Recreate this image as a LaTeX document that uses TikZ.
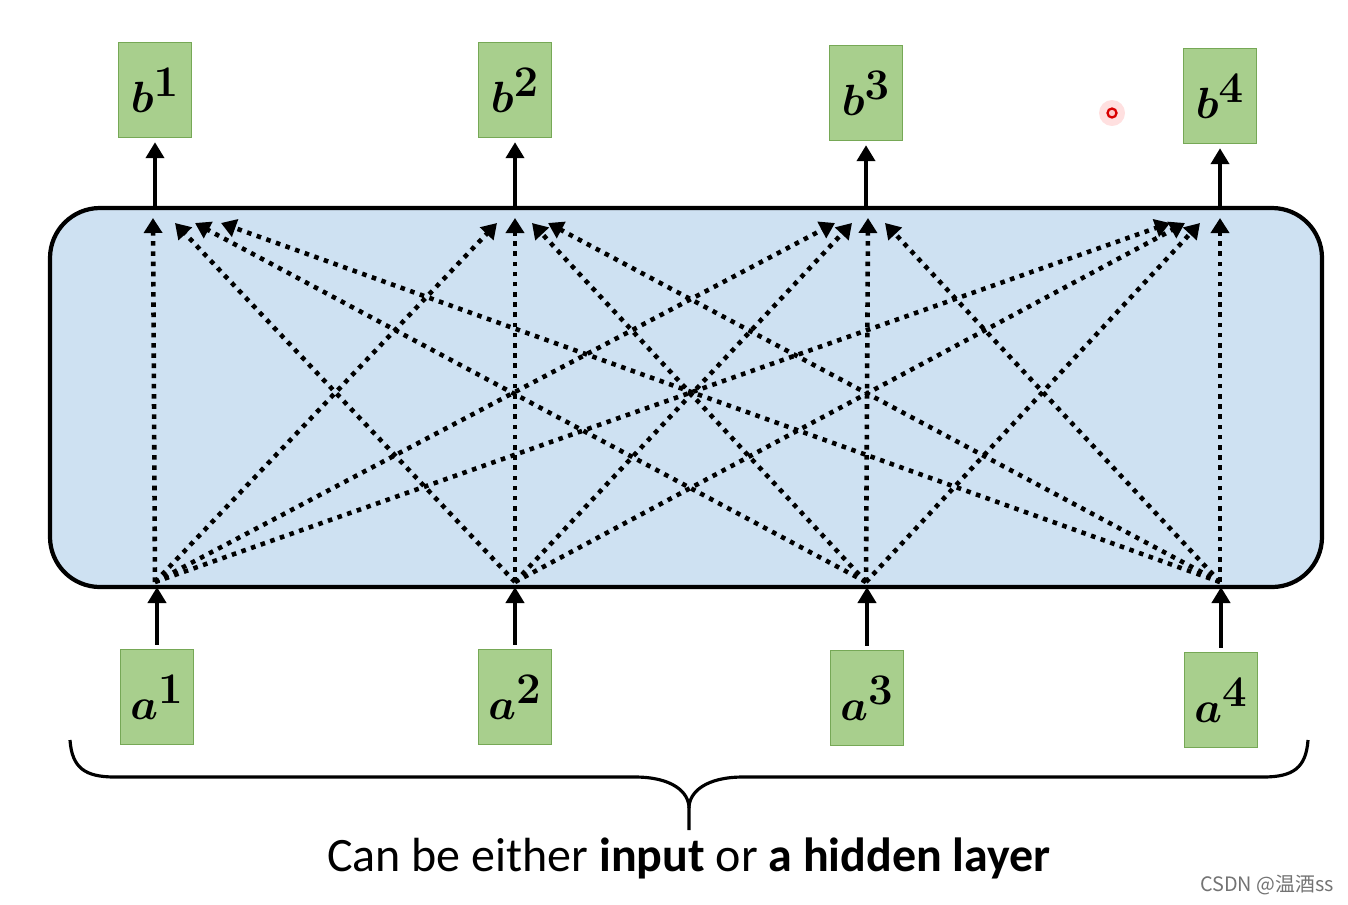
\documentclass[tikz,border=0pt]{standalone}
\usepackage{fontspec}
\usepackage{bm}
\usepackage{tikz}
\usetikzlibrary{arrows.meta,calc}
\setmainfont{Carlito}
\newfontfamily\cjk{Noto Sans CJK SC}
\definecolor{boxgreen}{RGB}{168,207,141}
\definecolor{boxedge}{RGB}{118,168,86}
\definecolor{layerblue}{RGB}{206,225,242}

\begin{document}
\begin{tikzpicture}[x=0.02cm,y=-0.02cm,
    vec/.style={rectangle,draw=boxedge,line width=0.8pt,fill=boxgreen,
        minimum width=1.46cm,minimum height=1.9cm,inner sep=0pt,
        font=\fontsize{33}{38}\selectfont},
    flow/.style={line width=2.3pt,-{Triangle[width=0.36cm,length=0.32cm]}},
    dotarrow/.style={line width=2.6pt,dash pattern=on 2.6pt off 3.2pt,
        -{Triangle[width=0.36cm,length=0.3cm]}}]
    \useasboundingbox (0,0) rectangle (1348,904);

    % Self-attention layer
    \draw[line width=2.4pt,fill=layerblue,rounded corners=1cm]
        (50,208) rectangle (1322,587);

    % Outputs
    \node[vec] (b1) at (155,90) {$\bm{b}^{\bm{1}}$};
    \node[vec] (b2) at (515,90) {$\bm{b}^{\bm{2}}$};
    \node[vec] (b3) at (866,93) {$\bm{b}^{\bm{3}}$};
    \node[vec] (b4) at (1220,96) {$\bm{b}^{\bm{4}}$};

    % Inputs
    \node[vec] (a1) at (157,697) {$\bm{a}^{\bm{1}}$};
    \node[vec] (a2) at (515,697) {$\bm{a}^{\bm{2}}$};
    \node[vec] (a3) at (867,698) {$\bm{a}^{\bm{3}}$};
    \node[vec] (a4) at (1221,700) {$\bm{a}^{\bm{4}}$};

    % Layer borders
    \coordinate (top1) at (155,208);
    \coordinate (top2) at (515,208);
    \coordinate (top3) at (866,208);
    \coordinate (top4) at (1220,208);
    \coordinate (bot1) at (157,587);
    \coordinate (bot2) at (515,587);
    \coordinate (bot3) at (867,587);
    \coordinate (bot4) at (1221,587);

    % Solid arrows
    \draw[flow,shorten >=0.08cm] (top1) -- (b1);
    \draw[flow,shorten >=0.08cm] (top2) -- (b2);
    \draw[flow,shorten >=0.08cm] (top3) -- (b3);
    \draw[flow,shorten >=0.08cm] (top4) -- (b4);
    \draw[flow,shorten <=0.08cm] (a1) -- (bot1);
    \draw[flow,shorten <=0.08cm] (a2) -- (bot2);
    \draw[flow,shorten <=0.08cm] (a3) -- (bot3);
    \draw[flow,shorten <=0.08cm] (a4) -- (bot4);

    % Dotted connections
    \coordinate (s1) at (155,582);
    \coordinate (s2) at (515,582);
    \coordinate (s3) at (866,582);
    \coordinate (s4) at (1220,582);
    \coordinate (e1) at (153,218);
    \coordinate (e2) at (515,218);
    \coordinate (e3) at (868,218);
    \coordinate (e4) at (1220,218);
    \draw[dotarrow] (s1) -- (e1);
    \draw[dotarrow] (s2) -- ($(e1)+(22,5)$);
    \draw[dotarrow] (s3) -- ($(e1)+(42,5)$);
    \draw[dotarrow] (s4) -- ($(e1)+(68,5)$);
    \draw[dotarrow] (s1) -- ($(e2)+(-18,5)$);
    \draw[dotarrow] (s2) -- (e2);
    \draw[dotarrow] (s3) -- ($(e2)+(17,5)$);
    \draw[dotarrow] (s4) -- ($(e2)+(33,5)$);
    \draw[dotarrow] (s1) -- ($(e3)+(-33,5)$);
    \draw[dotarrow] (s2) -- ($(e3)+(-16,5)$);
    \draw[dotarrow] (s3) -- (e3);
    \draw[dotarrow] (s4) -- ($(e3)+(17,5)$);
    \draw[dotarrow] (s1) -- ($(e4)+(-50,5)$);
    \draw[dotarrow] (s2) -- ($(e4)+(-35,5)$);
    \draw[dotarrow] (s3) -- ($(e4)+(-20,5)$);
    \draw[dotarrow] (s4) -- (e4);

    % Brace
    \draw[line width=1.8pt] (70,740) .. controls (72,768) and (85,777) .. (115,777)
        -- (635,777) .. controls (672,777) and (689,792) .. (689,808) -- (689,830);
    \draw[line width=1.8pt] (1308,740) .. controls (1306,768) and (1293,777) .. (1263,777)
        -- (743,777) .. controls (706,777) and (689,792) .. (689,808);
    \node (caption) at (689,858) {\fontsize{27.3}{32}\selectfont Can be either \textbf{input} or \textbf{a hidden layer}};

    % Pointer
    \fill[red!12] (1112,113) circle (13);
    \draw[red!85!black,line width=1.3pt,fill=red!20] (1112,113) circle (4.5);

    % Watermark
    \node[text=black!55] (mark) at (1267,885) {\cjk\fontsize{11.3}{13}\selectfont CSDN @温酒ss};
\end{tikzpicture}
\end{document}
